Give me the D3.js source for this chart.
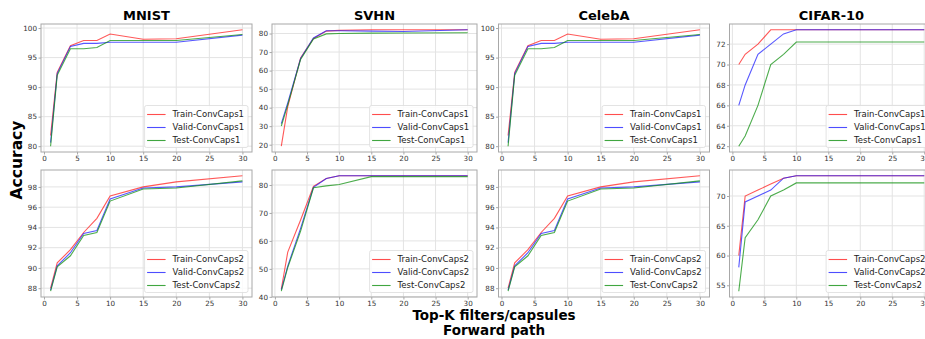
<!DOCTYPE html>
<html><head><meta charset="utf-8">
<script src="https://cdn.jsdelivr.net/npm/d3@7"></script>
<style>body{margin:0;background:#fff}svg{display:block}text{font-family:"DejaVu Sans",sans-serif}</style>
</head><body><svg id="c" width="925" height="339"></svg>
<script>
const topK = [1, 2, 4, 6, 8, 10, 15, 20, 30];
const xTicks = [0, 5, 10, 15, 20, 25, 30];
const datasets = ["MNIST", "SVHN", "CelebA", "CIFAR-10"];
const seriesNames1 = ["Train-ConvCaps1", "Valid-ConvCaps1", "Test-ConvCaps1"];
const seriesNames2 = ["Train-ConvCaps2", "Valid-ConvCaps2", "Test-ConvCaps2"];

const mnistTrain1 = [81.8, 92.5, 97.0, 97.9, 97.9, 99.0, 98.1, 98.2, 99.7];
const mnistValid1 = [80.6, 92.3, 96.9, 97.4, 97.4, 97.6, 97.6, 97.6, 98.8];
const mnistTest1  = [80.0, 92.0, 96.5, 96.5, 96.7, 97.9, 97.9, 97.9, 98.9];
const svhnTrain1 = [19.2, 40.5, 66.8, 77.3, 81.3, 81.7, 82.0, 82.0, 82.0];
const svhnValid1 = [31.4, 42.5, 66.5, 77.6, 81.5, 81.5, 81.3, 81.1, 82.0];
const svhnTest1  = [30.1, 41.5, 66.0, 77.1, 79.8, 80.0, 80.2, 80.3, 80.4];
const celebaTrain1 = [81.8, 92.5, 97.0, 97.9, 97.9, 99.0, 98.1, 98.2, 99.7];
const celebaValid1 = [80.6, 92.3, 96.9, 97.4, 97.4, 97.6, 97.6, 97.6, 98.8];
const celebaTest1  = [80.0, 92.0, 96.5, 96.5, 96.7, 97.9, 97.9, 97.9, 98.9];
const cifarTrain1 = [70.0, 71.0, 72.0, 73.4, 73.4, 73.4, 73.4, 73.4, 73.4];
const cifarValid1 = [66.0, 68.0, 71.0, 72.0, 73.0, 73.4, 73.4, 73.4, 73.4];
const cifarTest1  = [62.0, 63.0, 66.0, 70.0, 71.0, 72.2, 72.2, 72.2, 72.2];

const mnistTrain2 = [88.0, 90.5, 91.8, 93.5, 94.9, 97.1, 98.0, 98.5, 99.1];
const mnistValid2 = [87.8, 90.2, 91.5, 93.4, 93.7, 96.8, 97.9, 98.0, 98.5];
const mnistTest2  = [87.7, 90.1, 91.2, 93.2, 93.5, 96.6, 97.8, 97.9, 98.6];
const svhnTrain2 = [42.8, 56.0, 67.5, 79.5, 82.3, 83.3, 83.3, 83.3, 83.3];
const svhnValid2 = [42.5, 51.0, 64.5, 79.2, 82.3, 83.3, 83.3, 83.3, 83.3];
const svhnTest2  = [42.0, 50.5, 63.5, 79.0, 79.7, 80.2, 83.0, 83.0, 83.0];
const celebaTrain2 = [88.0, 90.5, 91.8, 93.5, 94.9, 97.1, 98.0, 98.5, 99.1];
const celebaValid2 = [87.8, 90.2, 91.5, 93.4, 93.7, 96.8, 97.9, 98.0, 98.5];
const celebaTest2  = [87.7, 90.1, 91.2, 93.2, 93.5, 96.6, 97.8, 97.9, 98.6];
const cifarTrain2 = [60.0, 70.0, 71.0, 72.0, 73.0, 73.4, 73.4, 73.4, 73.4];
const cifarValid2 = [58.0, 69.0, 70.0, 71.0, 73.0, 73.4, 73.4, 73.4, 73.4];
const cifarTest2  = [54.0, 63.0, 66.0, 70.0, 71.0, 72.2, 72.2, 72.2, 72.2];

const yTicksMnist1 = [80, 85, 90, 95, 100];
const yTicksSvhn1 = [20, 30, 40, 50, 60, 70, 80];
const yTicksCifar1 = [62, 64, 66, 68, 70, 72];
const yTicksMnist2 = [88, 90, 92, 94, 96, 98];
const yTicksSvhn2 = [40, 50, 60, 70, 80];
const yTicksCifar2 = [55, 60, 65, 70];

const panels = [
  {row: 0, col: 0, series: [mnistTrain1, mnistValid1, mnistTest1], names: seriesNames1, yt: yTicksMnist1},
  {row: 0, col: 1, series: [svhnTrain1, svhnValid1, svhnTest1], names: seriesNames1, yt: yTicksSvhn1},
  {row: 0, col: 2, series: [celebaTrain1, celebaValid1, celebaTest1], names: seriesNames1, yt: yTicksMnist1},
  {row: 0, col: 3, series: [cifarTrain1, cifarValid1, cifarTest1], names: seriesNames1, yt: yTicksCifar1},
  {row: 1, col: 0, series: [mnistTrain2, mnistValid2, mnistTest2], names: seriesNames2, yt: yTicksMnist2},
  {row: 1, col: 1, series: [svhnTrain2, svhnValid2, svhnTest2], names: seriesNames2, yt: yTicksSvhn2},
  {row: 1, col: 2, series: [celebaTrain2, celebaValid2, celebaTest2], names: seriesNames2, yt: yTicksMnist2},
  {row: 1, col: 3, series: [cifarTrain2, cifarValid2, cifarTest2], names: seriesNames2, yt: yTicksCifar2}
];

const colors = ["#ff2020", "#2020ff", "#109010"];
const colX = [[41, 252], [272, 477], [498.5, 709.5], [729.5, 933.5]];
const rowY = [[24, 152], [170, 297]];

const svg = d3.select("#c");

panels.forEach(p => {
  const [x0, x1] = colX[p.col];
  const [y0, y1] = rowY[p.row];
  const x = d3.scaleLinear().domain([1 - 1.45, 30 + 1.45]).range([x0, x1]);
  const all = p.series.flat();
  const [mn, mx] = d3.extent(all);
  const m = (mx - mn) * 0.05;
  const y = d3.scaleLinear().domain([mn - m, mx + m]).range([y1, y0]);
  const g = svg.append("g");

  g.append("g").selectAll("line").data(xTicks).join("line")
    .attr("x1", d => x(d)).attr("x2", d => x(d)).attr("y1", y0).attr("y2", y1)
    .attr("stroke", "#e3e3e3").attr("stroke-width", 1);
  g.append("g").selectAll("line").data(p.yt).join("line")
    .attr("y1", d => y(d)).attr("y2", d => y(d)).attr("x1", x0).attr("x2", x1)
    .attr("stroke", "#e3e3e3").attr("stroke-width", 1);

  const line = d3.line().x((d, i) => x(topK[i])).y(d => y(d));
  p.series.forEach((s, i) => {
    g.append("path").datum(s).attr("d", line)
      .attr("fill", "none").attr("stroke", colors[i]).attr("stroke-opacity", 0.75).attr("stroke-width", 1.1);
  });

  g.append("rect").attr("x", x0).attr("y", y0).attr("width", x1 - x0).attr("height", y1 - y0)
    .attr("fill", "none").attr("stroke", "#a8a8a8").attr("stroke-width", 1);

  const ax = d3.axisBottom(x).tickValues(xTicks).tickSize(2.5).tickPadding(1.5).tickFormat(d3.format("d"));
  const ay = d3.axisLeft(y).tickValues(p.yt).tickSize(2.5).tickPadding(1.5).tickFormat(d3.format("d"));
  const gax = g.append("g").attr("transform", `translate(0,${y1})`).call(ax);
  const gay = g.append("g").attr("transform", `translate(${x0},0)`).call(ay);
  [gax, gay].forEach(a => {
    a.select(".domain").remove();
    a.selectAll(".tick line").attr("stroke", "#a8a8a8");
    a.selectAll("text").attr("fill", "#333").style("font-size", "7.2px").style("font-family", "DejaVu Sans");
  });

  if (p.row === 0) {
    svg.append("text").attr("x", (x0 + x1) / 2).attr("y", 20)
      .attr("text-anchor", "middle").style("font-size", "13px").style("font-weight", "bold")
      .text(datasets[p.col]);
  }

  // legend
  const lg = g.append("g");
  const rowH = 13;
  const probe = lg.append("text").style("font-size", "8.5px").text(p.names[0]);
  const tw = probe.node().getComputedTextLength();
  probe.remove();
  const bw = 28 + tw + 4, bh = 42;
  const bx = x1 - 4 - bw, by = y1 - 4.5 - bh;
  lg.append("rect").attr("x", bx).attr("y", by).attr("width", bw).attr("height", bh)
    .attr("rx", 2).attr("fill", "#fff").attr("fill-opacity", 0.85).attr("stroke", "#dcdcdc").attr("stroke-width", 0.8);
  p.names.forEach((n, i) => {
    const cy = Math.round(by + 8 + i * rowH) + 0.5;
    lg.append("line").attr("x1", bx + 2.5).attr("x2", bx + 21).attr("y1", cy).attr("y2", cy)
      .attr("stroke", colors[i]).attr("stroke-opacity", 0.8).attr("stroke-width", 1.1);
    lg.append("text").attr("x", bx + 28).attr("y", cy).attr("dy", "0.33em")
      .style("font-size", "8.5px").attr("fill", "#222").text(n);
  });
});

svg.append("text").attr("transform", "translate(22,160) rotate(-90)").attr("text-anchor", "middle")
  .style("font-size", "15.5px").style("font-weight", "bold").text("Accuracy");
svg.append("text").attr("x", 494).attr("y", 320).attr("text-anchor", "middle")
  .style("font-size", "13.5px").style("font-weight", "bold").text("Top-K filters/capsules");
svg.append("text").attr("x", 494).attr("y", 335).attr("text-anchor", "middle")
  .style("font-size", "13.5px").style("font-weight", "bold").text("Forward path");
</script></body></html>
